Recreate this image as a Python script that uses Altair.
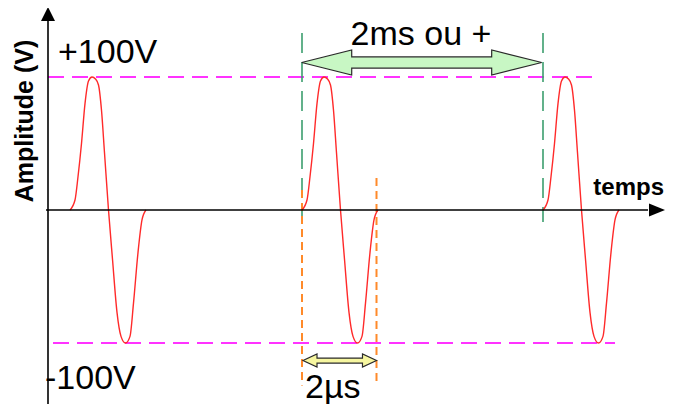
import altair as alt
import pandas as pd

# ---- data -------------------------------------------------------------
# one pulse: time offset from pulse start (arbitrary time units) and amplitude (V)
shape_dt = [0, 0.5, 0.8, 1.15, 1.5, 1.85, 2.2, 2.55, 2.85, 3.15, 3.45, 3.85,
            4.25, 4.7, 5.1, 5.55, 6.0, 6.35, 6.8, 7.2, 7.6]
shape_v = [0, 7.5, 25, 50, 80, 97, 100, 98.5, 94, 75, 43, 0,
           -37, -77, -95, -100, -95, -70, -32, -7.5, 0]
pulse_starts = [2.2, 25.4, 49.5]

level_values = [100, -100]
level_t_start = [0, 0.5]
level_t_end = [55.2, 56.7]

period_marks_t = [25.4, 49.5]          # green dashed markers
width_marks_t = [25.4, 32.85]          # orange dashed markers

labels = ["+100V", "-100V", "2ms ou +", "2µs", "temps", "Amplitude (V)"]

# ---- scales -----------------------------------------------------------
XS = alt.Scale(domain=[-4, 61.8], nice=False, zero=False)
YS = alt.Scale(domain=[-145.86, 151.88], nice=False, zero=False)
FONT = "Liberation Sans"


def X(field="t"):
    return alt.X(f"{field}:Q", scale=XS, axis=None)


def Y(field="v"):
    return alt.Y(f"{field}:Q", scale=YS, axis=None)


# ---- waveform ---------------------------------------------------------
rows = []
for k, t0 in enumerate(pulse_starts):
    for dt, v in zip(shape_dt, shape_v):
        rows.append({"pulse": k, "t": t0 + dt, "v": v})
wave_df = pd.DataFrame(rows)
wave = alt.Chart(wave_df).mark_line(
    color="#ff2a2a", strokeWidth=1.4, interpolate="monotone"
).encode(x=X(), y=Y(), detail="pulse:N")

# ---- level dashed lines (+/-100 V) --------------------------------------
lvl_df = pd.DataFrame({"t": level_t_start, "t2": level_t_end, "v": level_values})
levels = alt.Chart(lvl_df).mark_rule(
    color="#ff33ff", strokeWidth=2, strokeDash=[16, 8]
).encode(x=X(), x2="t2:Q", y=Y())

# ---- green period markers ---------------------------------------------
green_df = pd.DataFrame({"t": period_marks_t, "v": [133, 133], "v2": [-9, -9]})
green = alt.Chart(green_df).mark_rule(
    color="#3c9e6e", strokeWidth=1.6, strokeDash=[20, 9]
).encode(x=X(), y=Y(), y2="v2:Q")

# ---- orange pulse-width markers ---------------------------------------
orange_df = pd.DataFrame({"t": width_marks_t, "v": [15, 24], "v2": [-132, -132]})
orange = alt.Chart(orange_df).mark_rule(
    color="#ff8a2a", strokeWidth=2, strokeDash=[8, 5]
).encode(x=X(), y=Y(), y2="v2:Q")

# ---- axes (black lines + arrow heads) ---------------------------------
axes_df = pd.DataFrame({"t": [0, -0.2], "t2": [0, 60], "v": [147, 0], "v2": [-146, 0]})
axes = alt.Chart(axes_df).mark_rule(color="black", strokeWidth=1.6).encode(
    x=X(), x2="t2:Q", y=Y(), y2="v2:Q"
)
up_head = alt.Chart(pd.DataFrame({"t": [0], "v": [147.4]})).mark_point(
    shape="M0,-1L1,1L-1,1Z", size=196, filled=True, fill="black", opacity=1, strokeWidth=0
).encode(x=X(), y=Y())
right_head = alt.Chart(pd.DataFrame({"t": [60.9], "v": [0]})).mark_point(
    shape="M1,0L-1,-0.8L-1,0.8Z", size=256, filled=True, fill="black", opacity=1, strokeWidth=0
).encode(x=X(), y=Y())


# ---- double arrows ----------------------------------------------------
def double_arrow(t_a, t_b, vc, head_len, head_half, shaft_half, fill):
    eps = 0.002
    ts = [t_a, t_a + head_len, t_a + head_len + eps, t_b - head_len - eps, t_b - head_len, t_b]
    tops = [vc, vc + head_half, vc + shaft_half, vc + shaft_half, vc + head_half, vc]
    bots = [vc, vc - head_half, vc - shaft_half, vc - shaft_half, vc - head_half, vc]
    df = pd.DataFrame({"t": ts, "v": tops, "v2": bots})
    return alt.Chart(df).mark_area(
        fill=fill, stroke="#2a2a2a", strokeWidth=1.2, opacity=1, fillOpacity=1,
        interpolate="linear"
    ).encode(x=X(), y=Y(), y2="v2:Q")


green_arrow = double_arrow(25.37, 49.37, 110.9, 5.0, 9.4, 4.2, "#c8f7c4")
yellow_arrow = double_arrow(25.5, 32.85, -113.2, 1.4, 4.9, 1.9, "#f6f6a0")

# ---- texts ------------------------------------------------------------
def text_layer(label, t, v, align="left", size=34, weight="normal", angle=0):
    df = pd.DataFrame({"label": [label], "t": [t], "v": [v]})
    kw = dict(align=align, baseline="alphabetic", fontSize=size, font=FONT,
              fontWeight=weight, color="black")
    if angle:
        kw["angle"] = angle
    return alt.Chart(df).mark_text(**kw).encode(x=X(), y=Y(), text="label:N")


texts = [
    text_layer(labels[0], 1.0, 110.5),
    text_layer(labels[1], -0.3, -134.6),
    text_layer(labels[2], 37.3, 124, align="center"),
    text_layer(labels[3], 25.7, -141.4),
    text_layer(labels[4], 61.6, 11.3, align="right", size=24, weight="bold"),
    text_layer(labels[5], -1.5, 66.9, align="center", size=25, weight="bold", angle=270),
]

chart = alt.layer(
    levels, green, orange, wave, axes, up_head, right_head,
    green_arrow, yellow_arrow, *texts
).properties(
    width=658, height=396, padding=0,
    autosize=alt.AutoSizeParams(type="none"),
).configure_view(stroke=None)

chart.save("out.html", embed_options={"renderer": "svg", "actions": False})
